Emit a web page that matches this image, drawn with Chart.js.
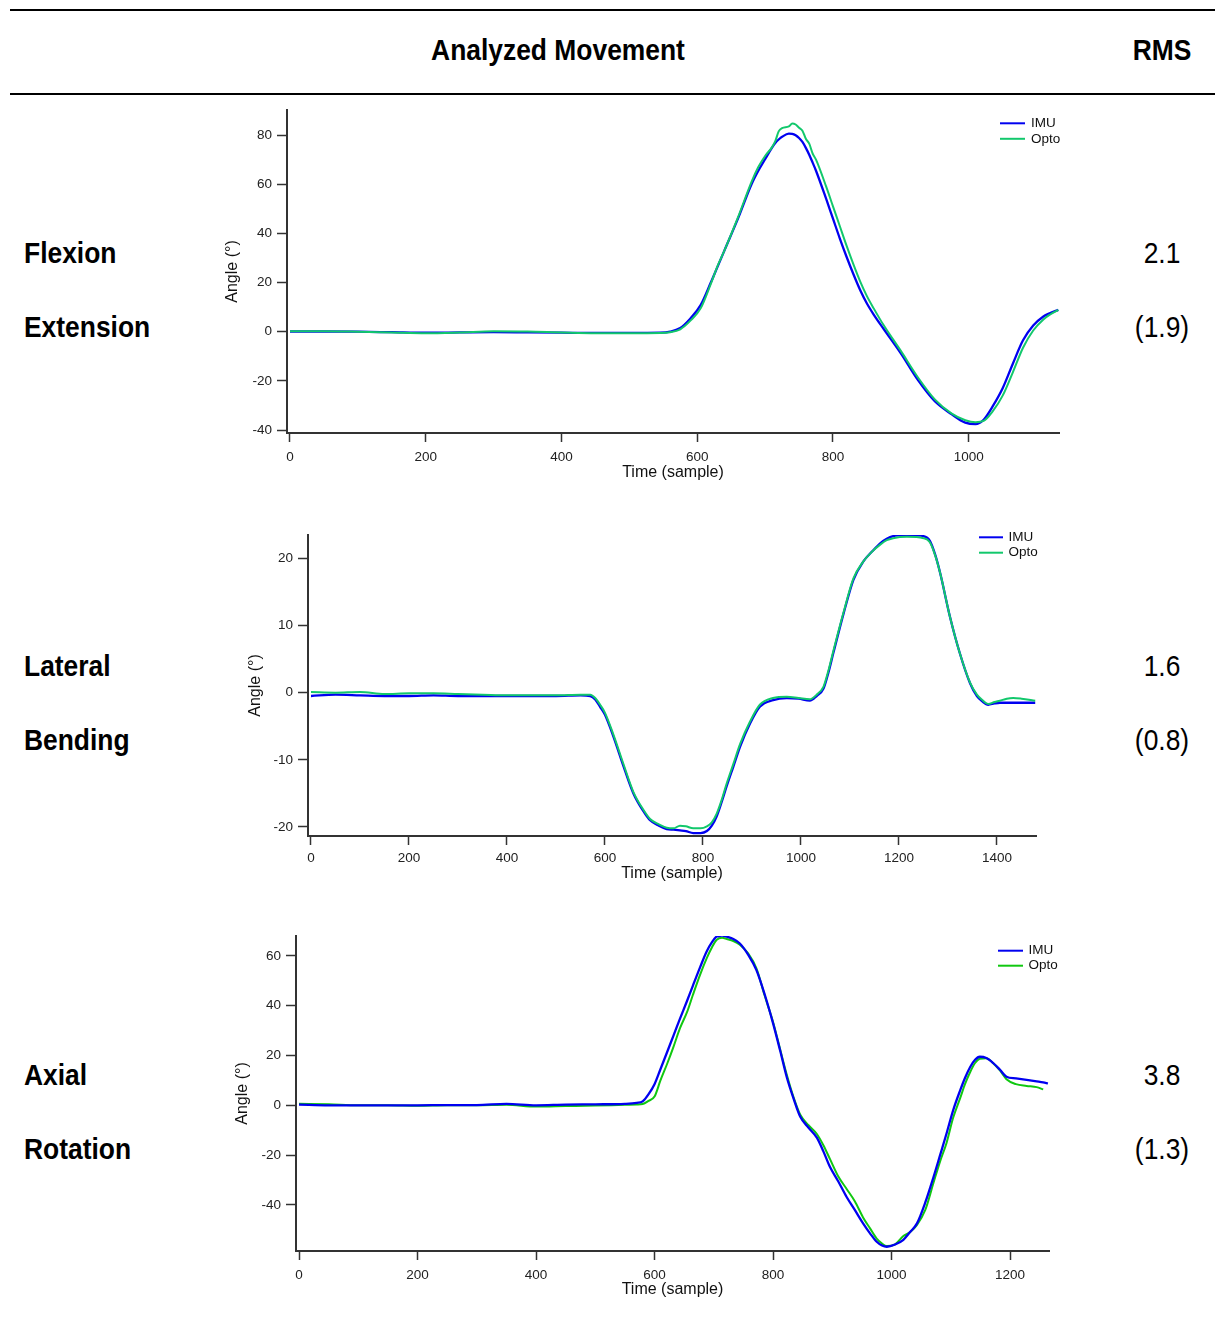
<!DOCTYPE html>
<html lang="en">
  <head>
    <meta charset="UTF-8" />
    <title>IMU vs Opto angles</title>
    <script src="https://cdn.jsdelivr.net/npm/chart.js@4.4.0/dist/chart.umd.min.js"></script>
    <style>
      body { margin: 0; background: #fff; }
      #page {
        position: relative; width: 1215px; height: 1334px; overflow: hidden;
        font-family: "Liberation Sans", Arial, sans-serif;
        color: #000;
      }
      .rule { position: absolute; left: 10px; right: 0; height: 2px; background: #000; }
      /* the figure uses a narrow face; squeeze Liberation Sans to match */
      .txt { position: absolute; height: 40px; line-height: 40px; font-size: 30px; white-space: nowrap;
             transform: scaleX(0.88); transform-origin: 0 50%; }
      .b { font-weight: bold; }
      .c { transform: translateX(-50%) scaleX(0.88); transform-origin: 50% 50%; }
      canvas { position: absolute; }
    </style>
  </head>
  <body>
    <div id="page">
      <div class="rule" style="top: 9px"></div>
      <div class="txt b c" style="left: 558px; top: 30px">Analyzed Movement</div>
      <div class="txt b c" style="left: 1162px; top: 30px">RMS</div>
      <div class="rule" style="top: 93px"></div>

      <div class="txt b" style="left: 24px; top: 233px">Flexion</div>
      <div class="txt b" style="left: 24px; top: 307px">Extension</div>
      <div class="txt c" style="left: 1162px; top: 233px">2.1</div>
      <div class="txt c" style="left: 1162px; top: 307px">(1.9)</div>

      <div class="txt b" style="left: 24px; top: 646px">Lateral</div>
      <div class="txt b" style="left: 24px; top: 720px">Bending</div>
      <div class="txt c" style="left: 1162px; top: 646px">1.6</div>
      <div class="txt c" style="left: 1162px; top: 720px">(0.8)</div>

      <div class="txt b" style="left: 24px; top: 1055px">Axial</div>
      <div class="txt b" style="left: 24px; top: 1129px">Rotation</div>
      <div class="txt c" style="left: 1162px; top: 1055px">3.8</div>
      <div class="txt c" style="left: 1162px; top: 1129px">(1.3)</div>

      <canvas id="flexChart"></canvas>
      <canvas id="latChart"></canvas>
      <canvas id="axChart"></canvas>
    </div>
    <script>
      /*** data (time in samples, angle in degrees) ***/
      const flexT = [0, 50, 100, 150, 200, 250, 300, 350, 400, 450, 500,
        545, 560, 575, 590, 605, 620, 630, 640, 660, 680,
        690, 700, 710, 715, 720, 725, 735, 740, 745, 750,
        755, 760, 765, 770, 775, 790, 800, 810, 820, 830,
        840, 850, 860, 875, 900, 925, 950, 975, 995, 1010,
        1022, 1035, 1050, 1065, 1080, 1095, 1110, 1120, 1132];
      const flexImu = [0.1, 0.1, 0, -0.2, -0.4, -0.3, -0.2, -0.3, -0.4, -0.5, -0.5,
        -0.4, 0, 1.5, 5.4, 10.8, 20, 26.5, 33, 46, 60,
        65.5, 70.2, 74.8, 76.8, 78.2, 79.3, 80.6, 80.5, 79.9, 78.8,
        77.2, 74.8, 72, 68.8, 65.5, 54, 46, 38, 30.5, 23.5,
        17, 11.5, 7, 1, -8.8, -19.6, -28.3, -33.6, -37, -37.6,
        -35.8, -30.5, -23, -13, -3.5, 2.5, 6.2, 7.6, 8.9];
      const flexOpto = [0.2, 0.2, 0, -0.3, -0.6, -0.3, 0.2, 0.1, -0.3, -0.6, -0.6,
        -0.5, -0.2, 1, 4.5, 9.5, 19.5, 26.8, 33, 46.5, 61,
        67, 71.5, 75, 77.5, 81.5, 82.8, 83.5, 84.7, 84.3, 83,
        81.8, 78.5, 76.5, 72.5, 70, 59, 51, 43, 35, 27.5,
        20.5, 14.5, 9.5, 2.5, -7.8, -18.5, -27.5, -33.3, -36, -36.8,
        -36.3, -32.5, -26, -16.5, -6.5, 0.5, 5, 7, 8.9];

      const latT = [0, 50, 100, 150, 200, 250, 300, 350, 400, 450, 500,
        550, 570, 580, 590, 600, 617, 638, 658, 678, 692,
        710, 726, 740, 753, 765, 780, 795, 808, 818, 828,
        838, 848, 862, 876, 896, 916, 943, 971, 995, 1018,
        1032, 1046, 1056, 1066, 1087, 1107, 1127, 1145, 1161, 1175,
        1188, 1216, 1250, 1263, 1274, 1284, 1304, 1324, 1345, 1359,
        1370, 1382, 1395, 1406, 1420, 1433, 1450, 1478];
      const latImu = [-0.5, -0.3, -0.4, -0.5, -0.5, -0.4, -0.5, -0.5, -0.5, -0.5, -0.5,
        -0.4, -0.5, -1, -2.1, -3.3, -6.5, -11, -15, -17.6, -19,
        -19.8, -20.3, -20.4, -20.5, -20.6, -20.9, -20.9, -20.6, -19.8, -18.4,
        -16.3, -14, -11, -8, -4.6, -2.1, -1.1, -0.8, -0.9, -1.2,
        -0.5, 0.6, 3, 5.9, 11.8, 16.8, 19.5, 21, 22.2, 22.9,
        23.3, 23.5, 23.3, 22.6, 20.5, 17.8, 11.3, 5.9, 1.4, -0.5,
        -1.3, -1.8, -1.6, -1.5, -1.5, -1.5, -1.5, -1.5];
      const latOpto = [0.1, 0, 0.1, -0.2, -0.1, -0.1, -0.2, -0.3, -0.4, -0.4, -0.4,
        -0.3, -0.3, -0.8, -1.8, -3, -6.2, -10.7, -14.8, -17.4, -18.8,
        -19.6, -20.1, -20.2, -19.8, -19.9, -20.2, -20.2, -19.9, -19.3, -18,
        -16, -13.6, -10.6, -7.6, -4.3, -1.8, -0.8, -0.6, -0.8, -1,
        -0.3, 0.9, 3.3, 6.2, 12, 17, 19.5, 21, 22, 22.7,
        23, 23.2, 23, 22.4, 20.4, 17.8, 11.3, 5.9, 1.5, -0.3,
        -1.1, -1.7, -1.4, -1.2, -0.9, -0.8, -0.9, -1.2];

      const axT = [0, 50, 100, 150, 200, 250, 300, 350, 400, 450, 500,
        550, 570, 580, 590, 600, 610, 621, 632, 643, 655,
        665, 677, 688, 697, 705, 714, 722, 733, 744, 758,
        772, 786, 800, 812, 823, 835, 846, 860, 874, 885,
        896, 910, 924, 938, 952, 964, 975, 984, 992, 1006,
        1020, 1031, 1043, 1057, 1071, 1082, 1093, 1104, 1116, 1124,
        1133, 1141, 1149, 1160, 1172, 1183, 1194, 1210, 1228, 1245,
        1256, 1264];
      const axImu = [0.3, 0, 0, 0, 0, 0.1, 0.1, 0.6, 0, 0.3, 0.4,
        0.6, 1, 1.6, 4.5, 8.5, 14.5, 21.2, 28, 34.8, 42,
        48.2, 55.5, 61.8, 65.5, 67.8, 68.2, 67.7, 66.8, 65, 60.5,
        54.3, 44.5, 33, 22, 11.5, 2.5, -4.6, -9, -13, -18.5,
        -24.7, -30.5, -36.7, -42, -47.4, -51.5, -54.8, -56.3, -56.8, -55.9,
        -54, -51, -47.4, -39, -28.7, -20, -11.2, -2, 6.1, 11,
        15.5, 18.3, 19.5, 19, 16.9, 14.3, 11.5, 10.8, 10.2, 9.6,
        9.2, 8.8];
      const axOpto = [0.6, 0.4, 0, 0, -0.2, 0, 0, 0.2, -0.5, -0.3, -0.1,
        0.2, 0.3, 0.5, 1.8, 3.5, 10, 16.5, 23.5, 31, 37.5,
        44.5, 52.5, 59, 63.5, 66.5, 67.3, 66.8, 66, 64.5, 61,
        55, 44, 33.5, 22.5, 12.5, 3, -3.8, -8, -11.5, -16,
        -21.5, -28.5, -33.5, -38.5, -45, -49.5, -53.5, -55.5, -56.5, -55.8,
        -52.5, -51, -48, -42, -31, -22.5, -15, -5, 3, 8.5,
        13.5, 17, 18.7, 18.9, 16.8, 14, 10.5, 8.5, 7.8, 7.3,
        6.4, null];

      const imuColor = "#0000f0";
      const optoColor = "#12c86c";
      const optoColor2 = "#10c810";

      /*** small legend drawn in the top-right corner of each plot ***/
      const cornerLegend = {
        id: "cornerLegend",
        afterDraw(chart, args, opts) {
          const ctx = chart.ctx;
          const a = chart.chartArea;
          ctx.save();
          ctx.font = "13.5px 'Liberation Sans', Arial, sans-serif";
          ctx.textBaseline = "middle";
          ctx.textAlign = "left";
          chart.data.datasets.forEach((ds, i) => {
            const x = a.right - opts.dx;
            const y = a.top + opts.dy + i * opts.row;
            ctx.strokeStyle = ds.borderColor;
            ctx.lineWidth = 2;
            ctx.beginPath();
            ctx.moveTo(x, y);
            ctx.lineTo(x + opts.len, y);
            ctx.stroke();
            ctx.fillStyle = "#111";
            ctx.fillText(ds.label, x + opts.len + opts.gap, y);
          });
          ctx.restore();
        },
      };

      function pts(t, v) {
        return t.map((x, i) => ({ x: x, y: v[i] })).filter((p) => p.y !== null);
      }

      function makeChart(id, box, t, imu, opto, optoCol, optoOnTop, xr, yr, yStep, xPad, legend) {
        const canvas = document.getElementById(id);
        canvas.width = box.plotR + 20 - box.left;
        canvas.height = box.bottom - box.top;
        canvas.style.left = box.left + "px";
        canvas.style.top = box.top + "px";
        const yw = box.plotL - box.left;
        const xh = box.bottom - box.plotB;
        const tickFont = { family: "'Liberation Sans', Arial, sans-serif", size: 13.5 };
        const titleFont = { family: "'Liberation Sans', Arial, sans-serif", size: 16 };
        const plain = (v) => String(v);
        return new Chart(canvas, {
          type: "line",
          data: {
            datasets: [
              { label: "IMU", data: pts(t, imu), borderColor: imuColor, borderWidth: 2.3, order: optoOnTop ? 1 : 0 },
              { label: "Opto", data: pts(t, opto), borderColor: optoCol, order: optoOnTop ? 0 : 1 },
            ],
          },
          options: {
            responsive: false,
            animation: false,
            devicePixelRatio: 1,
            layout: { padding: { top: box.plotT - box.top, right: 20, left: 0, bottom: 0 } },
            elements: {
              point: { radius: 0 },
              line: { borderWidth: 2, cubicInterpolationMode: "monotone", fill: false },
            },
            plugins: {
              legend: { display: false },
              tooltip: { enabled: false },
              cornerLegend: legend,
            },
            scales: {
              x: {
                type: "linear",
                min: xr[0],
                max: xr[1],
                afterFit: (s) => { s.height = xh; s.paddingLeft = 0; s.paddingRight = 0; },
                border: { display: true, color: "#333", width: 2 },
                grid: { drawOnChartArea: false, drawTicks: true, tickLength: 9, tickWidth: 1.5, tickColor: "#333" },
                ticks: { stepSize: 200, includeBounds: false, autoSkip: false, maxRotation: 0, padding: xPad, color: "#222", font: tickFont, callback: plain },
                title: { display: true, text: "Time (sample)", color: "#111", font: titleFont, padding: { top: 0, bottom: 4 } },
              },
              y: {
                type: "linear",
                min: yr[0],
                max: yr[1],
                afterFit: (s) => { s.width = yw; s.paddingTop = 0; s.paddingBottom = 0; },
                border: { display: true, color: "#333", width: 2 },
                grid: { drawOnChartArea: false, drawTicks: true, tickLength: 10, tickWidth: 1.5, tickColor: "#333" },
                ticks: { stepSize: yStep, includeBounds: false, autoSkip: false, padding: 5, color: "#222", font: tickFont, callback: plain },
                title: { display: true, text: "Angle (°)", color: "#111", font: titleFont, padding: { top: 4, bottom: 0 } },
              },
            },
          },
          plugins: [cornerLegend],
        });
      }

      makeChart("flexChart",
        { left: 219, top: 100, plotL: 287, plotT: 110, plotR: 1059, plotB: 433, bottom: 486 },
        flexT, flexImu, flexOpto, optoColor, true,
        [-4.4, 1133], [-41.2, 90.2], 20, 7,
        { dx: 59, dy: 13.3, len: 25, gap: 6, row: 15.5 });

      makeChart("latChart",
        { left: 242, top: 525, plotL: 308, plotT: 535, plotR: 1036, plotB: 836, bottom: 887 },
        latT, latImu, latOpto, optoColor, true,
        [-6.1, 1479.6], [-21.34, 23.47], 10, 5.5,
        { dx: 57, dy: 2.3, len: 24, gap: 5.5, row: 15.4 });

      makeChart("axChart",
        { left: 229, top: 926, plotL: 296, plotT: 936, plotR: 1049, plotB: 1251, bottom: 1303 },
        axT, axImu, axOpto, optoColor2, false,
        [-5.1, 1265.8], [-58.5, 68], 20, 7,
        { dx: 51, dy: 14.7, len: 25, gap: 5.5, row: 15 });
    </script>
  </body>
</html>
